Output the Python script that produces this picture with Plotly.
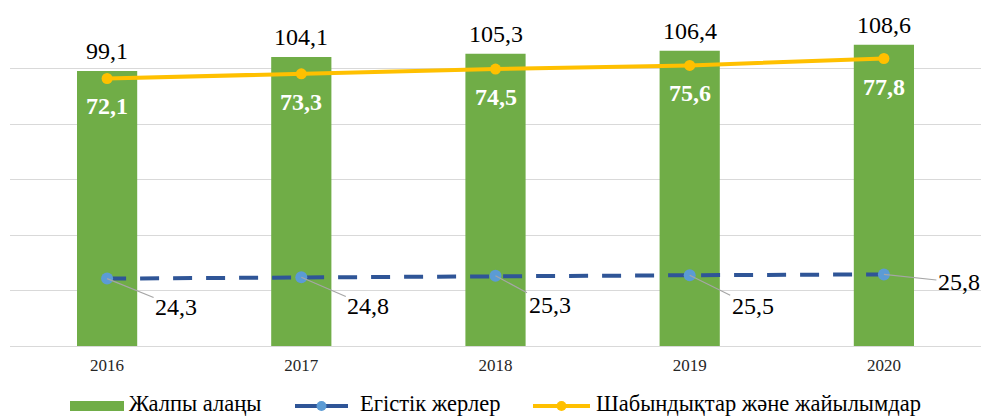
import numpy as np
import plotly.graph_objects as go

years = ["2016", "2017", "2018", "2019", "2020"]
total_area = [99.1, 104.1, 105.3, 106.4, 108.6]
arable = [24.3, 24.8, 25.3, 25.5, 25.8]
pasture = [72.1, 73.3, 74.5, 75.6, 77.8]
series_names = ["Жалпы алаңы", "Егістік жерлер", "Шабындықтар және жайылымдар"]

# label offsets (px) for arable-land callouts
arable_label_dx = [69, 67, 54, 63, 75]
arable_label_dy = [28, 29, 29, 31, 8]

FONT = "Times New Roman, Liberation Serif, serif"
GREEN = "#70AD47"
BLUE_LINE = "#2F5597"
BLUE_MARK = "#5B9BD5"
YELLOW = "#FFC000"

W, H = 983, 418
ML, MR, MT, MB = 10, 2, 13, 72
PW, PH = W - ML - MR, H - MT - MB


def fx(px):
    return (px - ML) / PW


def fy(py):
    return (H - MB - py) / PH


def fmt(v):
    return f"{v:.1f}".replace(".", ",")


# stacked line: pasture drawn on top of arable
pasture_stacked = (np.array(arable) + np.array(pasture)).round(2)

fig = go.Figure()
fig.add_trace(go.Bar(
    x=years, y=total_area, name=series_names[0],
    marker=dict(color=GREEN, line=dict(width=0)),
))
fig.add_trace(go.Scatter(
    x=years, y=arable, name=series_names[1], mode="lines+markers",
    line=dict(color=BLUE_LINE, width=4, dash="19px,14px"),
    marker=dict(color=BLUE_MARK, size=12),
))
fig.add_trace(go.Scatter(
    x=years, y=pasture_stacked, name=series_names[2], mode="lines+markers",
    line=dict(color=YELLOW, width=4),
    marker=dict(color=YELLOW, size=11),
))

annotations = []
for i, yr in enumerate(years):
    annotations.append(dict(
        x=i, y=total_area[i], text=fmt(total_area[i]), showarrow=False,
        yanchor="middle", yshift=20, font=dict(family=FONT, size=24, color="#000000"),
    ))
    annotations.append(dict(
        x=i, y=pasture_stacked[i], text="<b>" + fmt(pasture[i]) + "</b>", showarrow=False,
        yanchor="middle", yshift=-28, font=dict(family=FONT, size=24, color="#FFFFFF"),
    ))
    annotations.append(dict(
        x=i, y=arable[i], text=fmt(arable[i]), showarrow=True,
        ax=arable_label_dx[i], ay=arable_label_dy[i], axref="pixel", ayref="pixel",
        arrowhead=0, arrowwidth=1.2, arrowcolor="#A6A6A6", standoff=0,
        font=dict(family=FONT, size=24, color="#000000"),
    ))

# custom legend (paper coordinates)
LEG_Y = 406
LEG_TEXT_Y = 403.5
shapes = [
    dict(type="rect", xref="paper", yref="paper", x0=fx(70), x1=fx(124),
         y0=fy(LEG_Y + 5), y1=fy(LEG_Y - 5), fillcolor=GREEN, line=dict(width=0)),
    dict(type="line", xref="paper", yref="paper", x0=fx(295), x1=fx(348),
         y0=fy(LEG_Y), y1=fy(LEG_Y), line=dict(color=BLUE_LINE, width=4)),
    dict(type="circle", xref="paper", yref="paper", x0=fx(316.5), x1=fx(326.5),
         y0=fy(LEG_Y + 5), y1=fy(LEG_Y - 5), fillcolor=BLUE_MARK, line=dict(width=0)),
    dict(type="line", xref="paper", yref="paper", x0=fx(533), x1=fx(590),
         y0=fy(LEG_Y), y1=fy(LEG_Y), line=dict(color=YELLOW, width=4)),
    dict(type="circle", xref="paper", yref="paper", x0=fx(556.5), x1=fx(566.5),
         y0=fy(LEG_Y + 5), y1=fy(LEG_Y - 5), fillcolor=YELLOW, line=dict(width=0)),
]
for name, left in zip(series_names, [128, 359, 595]):
    annotations.append(dict(
        xref="paper", yref="paper", x=fx(left), y=fy(LEG_TEXT_Y), xanchor="left",
        yanchor="middle", borderpad=0,
        text=name, showarrow=False, font=dict(family=FONT, size=22.5, color="#000000"),
    ))

fig.update_layout(
    width=W, height=H,
    margin=dict(l=ML, r=MR, t=MT, b=MB),
    paper_bgcolor="#FFFFFF", plot_bgcolor="#FFFFFF",
    bargap=0.69,
    font=dict(family=FONT, color="#000000"),
    showlegend=False,
    annotations=annotations,
    shapes=shapes,
)
fig.update_xaxes(
    type="category", range=[-0.5, 4.5], showgrid=False, showline=True,
    linecolor="#D9D9D9", linewidth=1, ticks="", ticklabelstandoff=4,
    tickfont=dict(family=FONT, size=17, color="#262626"),
)
fig.update_yaxes(
    range=[0, 120], dtick=20, showgrid=True, gridcolor="#D9D9D9", gridwidth=1,
    showticklabels=False, zeroline=False, showline=False,
)

fig.write_html(
    "out.html",
    config={"displayModeBar": False},
    post_script="document.body.style.margin='0';document.body.style.overflow='hidden';",
)
